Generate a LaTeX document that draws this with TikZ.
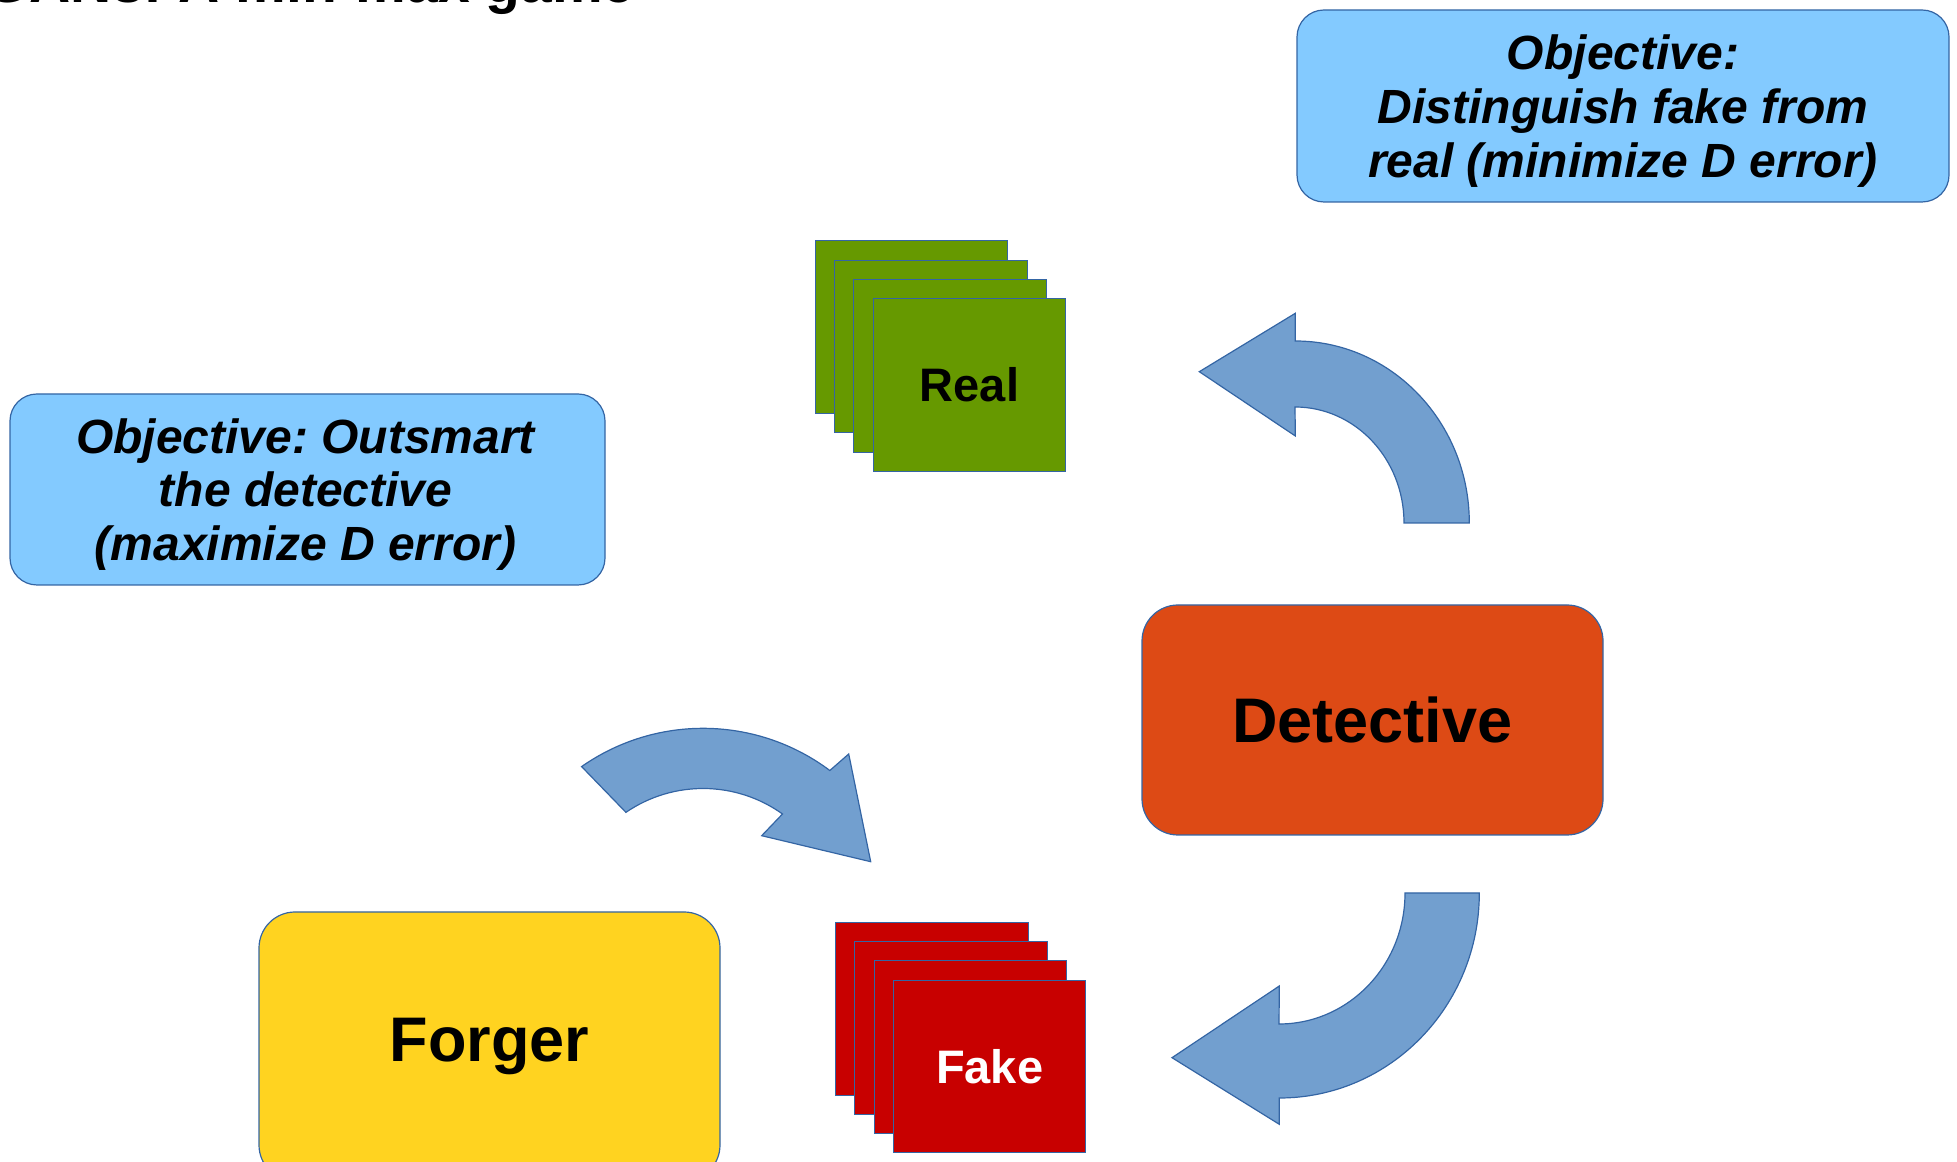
\documentclass[tikz,border=0pt]{standalone}
\usepackage{fontspec}
\setmainfont{Liberation Sans}
\frenchspacing
\definecolor{boxblue}{HTML}{83CAFF}
\definecolor{edgeblue}{HTML}{3465A4}
\definecolor{arrowblue}{HTML}{729FCF}
\definecolor{detorange}{HTML}{DD4A15}
\definecolor{forgeryellow}{HTML}{FFD320}
\definecolor{realgreen}{HTML}{669900}
\definecolor{fakered}{HTML}{C80000}
\tikzset{
  objbox/.style={draw=edgeblue, fill=boxblue, line width=0.6pt, rounded corners=13.5pt,
    inner sep=0pt},
  objtext/.style={inner sep=0pt, align=center,
    font=\fontsize{24}{26.85}\selectfont\bfseries\itshape},
  rolebox/.style={draw=edgeblue, line width=0.6pt, rounded corners=18pt, inner sep=0pt,
    minimum width=230.5pt, font=\fontsize{31.5}{36}\selectfont\bfseries},
  sample/.style={draw=edgeblue, line width=0.5pt, inner sep=0pt,
    minimum width=96.35pt, minimum height=86.3pt,
    font=\fontsize{23.5}{28}\selectfont\bfseries},
  bigarrow/.style={draw=edgeblue, fill=arrowblue, line width=0.6pt, line join=miter}
}
\begin{document}
\begin{tikzpicture}[x=0.5pt, y=0.5pt]
\useasboundingbox (0,0) rectangle (1957,1161);

% title, mostly above the page
\node[anchor=base west, inner sep=0pt, font=\fontsize{28.5}{34}\selectfont\bfseries]
  (title) at (-15,1158) {GANs: A min-max game};

% objectives
\node[objbox, minimum width=326pt, minimum height=96pt] (objD) at (1623,1055) {};
\node[objtext] (objDtext) at ([yshift=-2.5pt]objD.center)
  {Objective:\\Distinguish fake from\\real (minimize D error)};
\node[objbox, minimum width=297.5pt, minimum height=95.5pt] (objG) at (307.5,671.5) {};
\node[objtext] (objGtext) at ([xshift=-1pt, yshift=-2.5pt]objG.center)
  {Objective: Outsmart\\the detective\\(maximize D error)};

% players
\node[rolebox, fill=detorange, minimum height=115pt] (det) at (1372.5,441) {Detective};
\node[rolebox, fill=forgeryellow, minimum height=134.5pt] (forger) at (489.5,114.5) {Forger};

% stack of real samples
\foreach \k in {0,1,2} {
  \node[sample, fill=realgreen] (real\k) at (911.35+19.4*\k, 834-19.4*\k) {};
}
\node[sample, fill=realgreen] (real) at (969.55,775.8) {Real};

% stack of fake samples
\foreach \k in {0,1,2} {
  \node[sample, fill=fakered] (fake\k) at (932+19.2*\k, 152.15-19.2*\k) {};
}
\node[sample, fill=fakered, text=white] (fake) at (989.6,94.55) {Fake};

% detective looks at the real samples
\draw[bigarrow] (1199.3,789.3) -- (1295.3,847.7) -- (1295.3,820)
  arc[start angle=90, end angle=0, x radius=87pt, y radius=91pt]
  -- (1404,638)
  arc[start angle=0, end angle=90, x radius=54.5pt, y radius=58pt]
  -- (1295.3,725) -- cycle;

% detective looks at the fakes
\draw[bigarrow] (1405,268)
  arc[start angle=0, end angle=-90, x radius=63pt, y radius=65.5pt]
  -- (1279.3,175) -- (1172,103.3) -- (1279.3,36.7) -- (1279.3,63)
  arc[start angle=-90, end angle=0, x radius=100pt, y radius=102.5pt]
  -- cycle;

% forger produces fakes
\draw[bigarrow] (581.6,394.4)
  arc[start angle=125, end angle=53.2, radius=105.85pt]
  -- (848.7,407) -- (870.7,299.3) -- (761.7,325.3) -- (782.5,347)
  arc[start angle=54.4, end angle=124.4, radius=68.25pt]
  -- cycle;
\end{tikzpicture}
\end{document}
